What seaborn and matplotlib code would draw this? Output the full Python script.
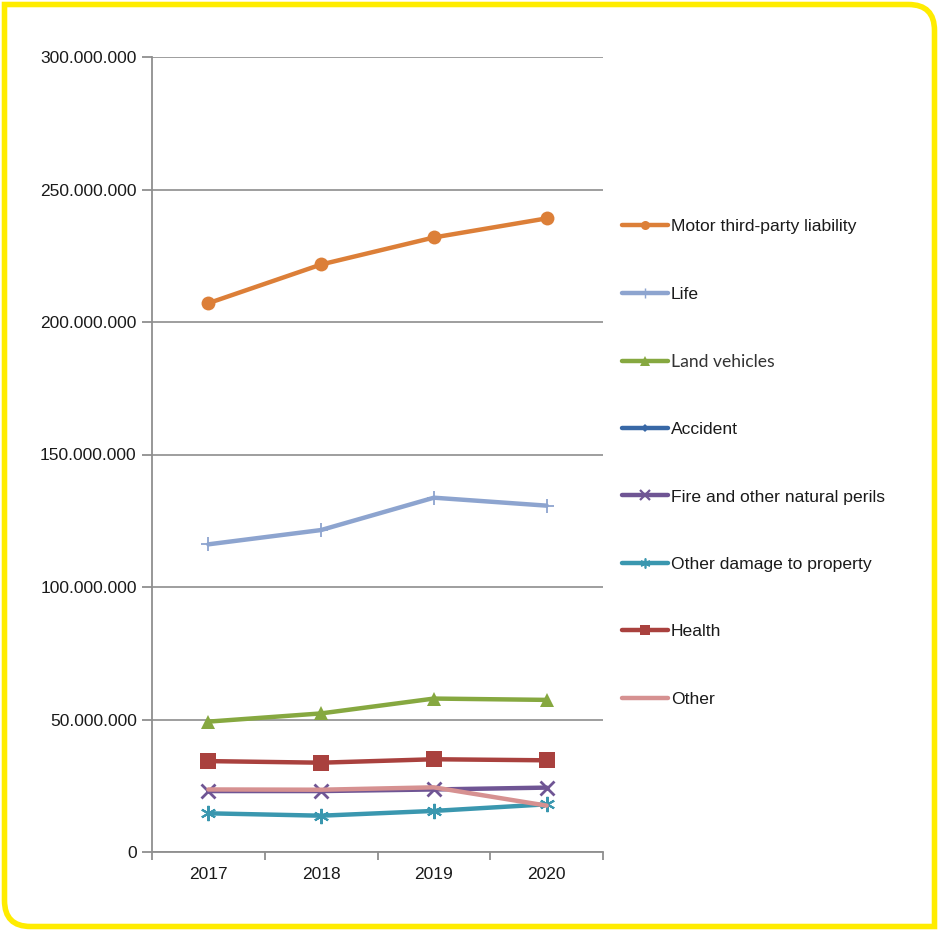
import numpy as np
import pandas as pd
import matplotlib
matplotlib.use("Agg")
import matplotlib.pyplot as plt
import matplotlib.transforms as mtransforms
from matplotlib.path import Path
from matplotlib.patches import PathPatch
from matplotlib.lines import Line2D
from matplotlib.ticker import FuncFormatter, FixedLocator
import seaborn as sns

# ---- data (gross written premium by line of business) ----
years = ["2017", "2018", "2019", "2020"]
motor_tpl = [207_100_000, 221_700_000, 231_900_000, 239_100_000]
life = [116_100_000, 121_500_000, 133_700_000, 130_700_000]
land_vehicles = [49_200_000, 52_300_000, 57_900_000, 57_400_000]
accident = [np.nan, np.nan, np.nan, np.nan]
fire_perils = [23_000_000, 23_000_000, 23_600_000, 24_300_000]
other_damage = [14_600_000, 13_700_000, 15_500_000, 18_000_000]
health = [34_300_000, 33_700_000, 35_000_000, 34_600_000]
other = [23_600_000, 23_500_000, 24_400_000, 17_500_000]

series_names = ["Motor third-party liability", "Life", "Land vehicles", "Accident",
                "Fire and other natural perils", "Other damage to property",
                "Health", "Other"]
series_values = [motor_tpl, life, land_vehicles, accident, fire_perils,
                 other_damage, health, other]
y_ticks = [0, 50_000_000, 100_000_000, 150_000_000, 200_000_000, 250_000_000, 300_000_000]

styles = {
    "Motor third-party liability": dict(color="#DC7F38", marker="o", ms=10, mew=0),
    "Life": dict(color="#8DA4CF", marker="+", ms=10, mew=1.3),
    "Land vehicles": dict(color="#86A840", marker="^", ms=10, mew=0),
    "Accident": dict(color="#3868A6", marker="D", ms=6, mew=0),
    "Fire and other natural perils": dict(color="#6F5594", marker="x", ms=10, mew=2),
    "Other damage to property": dict(color="#3A97AF", marker=(6, 2, 0), ms=11, mew=1.5),
    "Health": dict(color="#A9413E", marker="s", ms=11, mew=0),
    "Other": dict(color="#D69191", marker=None, ms=0, mew=0),
}

sns.set_theme(style="white")
plt.rcParams["font.family"] = ["Liberation Sans", "DejaVu Sans"]
plt.rcParams["text.color"] = "#1a1a1a"

W, H = 938, 933
fig = plt.figure(figsize=(W / 100, H / 100), dpi=100)
fig.patch.set_facecolor("white")

ax = fig.add_axes([152 / W, 1 - 852 / H, 451 / W, 795 / H])

xpos = np.arange(len(years))
handles = []
for name, vals in zip(series_names, series_values):
    st = styles[name]
    df = pd.DataFrame({"x": xpos, "y": vals}).dropna()
    if len(df):
        sns.lineplot(data=df, x="x", y="y", ax=ax, color=st["color"], lw=3.2,
                     marker=st["marker"], markersize=st["ms"], markeredgewidth=st["mew"],
                     markeredgecolor=st["color"], estimator=None, sort=False,
                     legend=False, solid_capstyle="round")
    handles.append(Line2D([], [], color=st["color"], lw=3.2, marker=st["marker"],
                          markersize=st["ms"] * 0.65, markeredgewidth=st["mew"] * 0.8,
                          markeredgecolor=st["color"], solid_capstyle="round"))

ax.set_xlim(-0.5, len(years) - 0.5)
ax.set_ylim(0, 300_000_000)
ax.set_xlabel("")
ax.set_ylabel("")

ax.xaxis.set_major_locator(FixedLocator(xpos))
ax.set_xticklabels(years)
ax.xaxis.set_minor_locator(FixedLocator(np.arange(-0.5, len(years), 1.0)))
ax.tick_params(axis="x", which="major", length=0, pad=10.5, labelsize=12.5, labelcolor="#1a1a1a")
ax.tick_params(axis="x", which="minor", length=6, width=1.3, color="#8f8f8f", direction="out")
ax.xaxis.set_ticks_position("bottom")

ax.set_yticks(y_ticks)
ax.yaxis.set_major_formatter(FuncFormatter(lambda v, p: f"{int(round(v)):,}".replace(",", ".")))
ax.tick_params(axis="y", which="major", length=7, width=1.3, color="#8f8f8f", direction="out",
               pad=4, labelsize=12.5, labelcolor="#1a1a1a")
ax.yaxis.set_ticks_position("left")

ax.grid(axis="y", color="#969696", lw=1.3)
ax.grid(axis="x", visible=False)
ax.set_axisbelow(True)
for side in ("top", "right"):
    ax.spines[side].set_visible(False)
for side in ("left", "bottom"):
    ax.spines[side].set_color("#8f8f8f")
    ax.spines[side].set_linewidth(1.3)

leg = fig.legend(handles, series_names, loc="upper left",
                 bbox_to_anchor=(622 / W, 1 - 219 / H), frameon=False,
                 fontsize=12.6, handlelength=2.65, handletextpad=0.15,
                 labelspacing=2.98, borderpad=0, borderaxespad=0)
for txt in leg.get_texts():
    if txt.get_text() == "Land vehicles":
        txt.set_fontfamily(["Lato", "DejaVu Sans"])
        txt.set_color("#333333")

# yellow border: square top-left and bottom-right corners, rounded top-right and bottom-left
px = mtransforms.Affine2D().scale(1 / W, 1 / H) + fig.transFigure
L, T, R, B, r = 4.5, 4.5, 934.5, 926.5, 26.0
verts = [
    (L, H - T), (R - r, H - T),
    (R, H - T), (R, H - T - r),
    (R, H - B),
    (L + r, H - B),
    (L, H - B), (L, H - B + r),
    (L, H - T), (L, H - T),
]
codes = [Path.MOVETO, Path.LINETO, Path.CURVE3, Path.CURVE3, Path.LINETO,
         Path.LINETO, Path.CURVE3, Path.CURVE3, Path.LINETO, Path.CLOSEPOLY]
fig.patches.append(PathPatch(Path(verts, codes), transform=px, fill=False,
                             edgecolor="#FFEC00", lw=4.0, joinstyle="miter"))

fig.savefig("out.png", dpi=100, facecolor="white")
